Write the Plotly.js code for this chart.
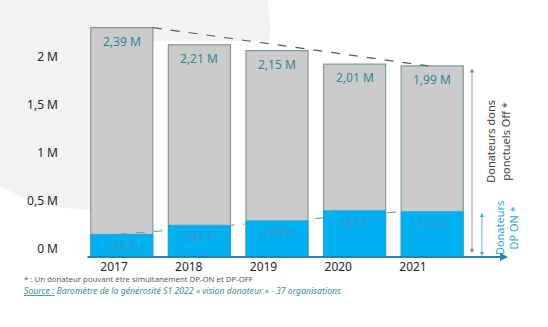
<!DOCTYPE html>
<html>
<head>
<meta charset="utf-8">
<script src="https://cdn.plot.ly/plotly-3.0.1.min.js"></script>
<style>html,body{margin:0;padding:0;background:#fff;}#chart{width:548px;height:327px;}</style>
</head>
<body>
<div id="chart"></div>
<script>
// Data
var years = ['2017', '2018', '2019', '2020', '2021'];
var totalDonors = [2.39, 2.21, 2.15, 2.01, 1.99];      // millions
var dpOnDonors = [0.236, 0.331, 0.378, 0.483, 0.473];  // millions
var totalLabels = ['2,39 M', '2,21 M', '2,15 M', '2,01 M', '1,99 M'];
var dpOnLabels = ['236 k', '331 k', '378 k', '483 k', '473 k'];
var yTickVals = [0, 0.5, 1, 1.5, 2];
var yTickText = ['0 M', '0,5 M', '1 M', '1,5 M', '2 M'];

var FONT = 'Noto Sans, Liberation Sans, sans-serif';
var nulls = years.map(function(){return null;});

var traces = [
  {
    type: 'bar', x: years, y: totalDonors, width: 0.8,
    marker: {color: '#cbcbcb', line: {color: '#7d9aa1', width: 1.2}},
    hoverinfo: 'skip', showlegend: false
  },
  {
    type: 'bar', x: years, y: dpOnDonors, width: 0.8,
    marker: {color: '#00b0f0', line: {color: '#00a6e4', width: 0.6}},
    hoverinfo: 'skip', showlegend: false
  },
  {type: 'scatter', mode: 'markers', x: years, y: nulls, xaxis: 'x2', yaxis: 'y', hoverinfo: 'skip', showlegend: false},
  {type: 'scatter', mode: 'markers', x: years, y: nulls, xaxis: 'x', yaxis: 'y2', hoverinfo: 'skip', showlegend: false}
];

var annotations = [];
years.forEach(function(yr, i) {
  annotations.push({
    x: i, y: totalDonors[i], xref: 'x', yref: 'y', xanchor: 'center', yanchor: 'top', yshift: -3,
    text: totalLabels[i], showarrow: false,
    font: {family: FONT, size: 12, color: '#31859c'}
  });
  annotations.push({
    x: i, y: dpOnDonors[i], xref: 'x', yref: 'y', xanchor: 'center', yanchor: 'top', yshift: -1,
    text: dpOnLabels[i], showarrow: false,
    font: {family: FONT, size: 12, color: '#3f95c6'}
  });
});

// baseline arrow
annotations.push({
  x: 1.0954, y: 0, xref: 'paper', yref: 'y', ax: -422, ay: 0, axref: 'pixel', ayref: 'pixel',
  showarrow: true, arrowhead: 2, arrowsize: 0.8, arrowwidth: 2, arrowcolor: '#2a80b0', standoff: 0, text: ''
});
// gray double arrow
annotations.push({
  x: 1.0026, y: 0, xref: 'paper', yref: 'y', ax: 0, ay: totalDonors[4], axref: 'pixel', ayref: 'y',
  showarrow: true, arrowhead: 2, startarrowhead: 2, arrowside: 'end+start', arrowsize: 1, startarrowsize: 1,
  arrowwidth: 0.8, arrowcolor: '#7a7a7a', standoff: 4, startstandoff: 1, text: ''
});
// blue double arrow
annotations.push({
  x: 1.028, y: 0, xref: 'paper', yref: 'y', ax: 0, ay: dpOnDonors[4], axref: 'pixel', ayref: 'y',
  showarrow: true, arrowhead: 2, startarrowhead: 2, arrowside: 'end+start', arrowsize: 1, startarrowsize: 1,
  arrowwidth: 0.8, arrowcolor: '#3aa8d8', standoff: 1, startstandoff: 0, text: ''
});
// rotated side labels
annotations.push({
  x: 1.0696, y: 1.2, xref: 'paper', yref: 'y', xanchor: 'center', yanchor: 'middle', textangle: -90, showarrow: false,
  text: 'Donateurs dons<br>ponctuels Off *', font: {family: FONT, size: 11, color: '#404040'}
});
annotations.push({
  x: 1.09, y: 0.3, xref: 'paper', yref: 'y', xanchor: 'center', yanchor: 'middle', textangle: -90, showarrow: false,
  text: 'Donateurs<br>DP ON *', font: {family: FONT, size: 11, color: '#1fa9e2'}
});
// footnotes
annotations.push({
  x: -0.157, y: -0.092, xref: 'paper', yref: 'paper', xanchor: 'left', yanchor: 'middle', showarrow: false,
  text: '* : Un donateur pouvant être simultanément DP-ON et DP-OFF',
  font: {family: FONT, size: 7.8, color: '#595959'}
});
annotations.push({
  x: -0.157, y: -0.1417, xref: 'paper', yref: 'paper', xanchor: 'left', yanchor: 'middle', showarrow: false,
  text: '<i><span style="text-decoration:underline">Source :</span> Baromètre de la générosité S1 2022 « vision donateur » - 37 organisations</i>',
  font: {family: FONT, size: 8.7, color: '#3b8e9e'}
});

// dashed trend lines
var blueX0 = -0.05, blueX1 = 3.6, blueMid = 0.4;
var blueYMid = dpOnDonors[0] + (blueMid - blueX0) / (blueX1 - blueX0) * (dpOnDonors[4] - dpOnDonors[0]);

var shapes = [
  {type: 'circle', xref: 'paper', yref: 'paper', x0: -0.446, x1: 0.482, y0: 0.196, y1: 1.696,
   fillcolor: '#f2f2f2', line: {width: 0}, layer: 'below'},
  {type: 'rect', xref: 'x', yref: 'y', x0: -0.4, x1: 4.5, y0: 0, y1: 2.25,
   fillcolor: '#ffffff', line: {width: 0}, layer: 'below'},
  {type: 'line', xref: 'x', yref: 'y', x0: 0.4, y0: totalDonors[0], x1: 3.95, y1: totalDonors[4],
   line: {color: '#5a5a5a', width: 1.2, dash: 'dash'}, layer: 'above'},
  {type: 'line', xref: 'x', yref: 'y', x0: blueX0, y0: dpOnDonors[0], x1: blueX1, y1: dpOnDonors[4],
   line: {color: '#6a8ea6', width: 1, dash: 'dash'}, layer: 'below'},
  {type: 'line', xref: 'x', yref: 'y', x0: blueX0, y0: dpOnDonors[0], x1: blueMid, y1: blueYMid,
   line: {color: '#6a8ea6', width: 1, dash: 'dash'}, layer: 'above'}
];

var yOff = 8 / 96; // tick labels sit a little above their true level in the reference

var layout = {
  width: 548, height: 327,
  margin: {l: 83, r: 77, t: 17, b: 70},
  paper_bgcolor: '#ffffff', plot_bgcolor: 'rgba(0,0,0,0)',
  barmode: 'overlay', showlegend: false,
  font: {family: FONT},
  xaxis: {
    type: 'category', categoryorder: 'array', categoryarray: years,
    range: [-0.5, 4.5], showticklabels: false, showgrid: false, zeroline: false, showline: false, ticks: ''
  },
  xaxis2: {
    type: 'category', categoryorder: 'array', categoryarray: years,
    overlaying: 'x', anchor: 'y', side: 'bottom',
    range: [-0.415, 4.776], showgrid: false, zeroline: false, showline: false, ticks: '',
    tickfont: {family: FONT, size: 12, color: '#262626'}, ticklabelstandoff: 1
  },
  yaxis: {
    range: [0, 2.5], showticklabels: false,
    showgrid: false, zeroline: false, showline: false, ticks: ''
  },
  yaxis2: {
    overlaying: 'y', anchor: 'x', side: 'left',
    range: [-yOff, 2.5 - yOff], tickvals: yTickVals, ticktext: yTickText,
    showgrid: false, zeroline: false, showline: false, ticks: '',
    tickfont: {family: FONT, size: 12, color: '#262626'},
    ticklabelstandoff: 24
  },
  annotations: annotations,
  shapes: shapes
};

Plotly.newPlot('chart', traces, layout, {displayModeBar: false, staticPlot: true});
</script>
</body>
</html>
